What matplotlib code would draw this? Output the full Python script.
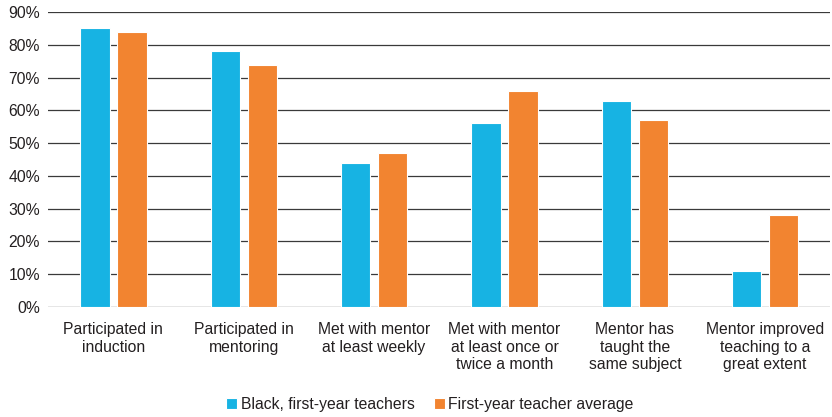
import numpy as np
import matplotlib.pyplot as plt

plt.rcParams['font.family'] = ['Liberation Sans', 'DejaVu Sans']

categories = ["Participated in\ninduction", "Participated in\nmentoring",
              "Met with mentor\nat least weekly", "Met with mentor\nat least once or\ntwice a month",
              "Mentor has\ntaught the\nsame subject", "Mentor improved\nteaching to a\ngreat extent"]
black_first_year = [85, 78, 44, 56, 63, 11]
first_year_avg = [84, 74, 47, 66, 57, 28]

blue = '#17b3e3'
orange = '#f28430'
txt = '#231f20'
fs = 11.3

fig = plt.figure(figsize=(8.32, 4.17), dpi=100)
ax = fig.add_axes([0.058, 0.264, 0.94, 0.707])

x = np.arange(len(categories))
w = 0.225
ax.bar(x - 0.142, black_first_year, w, color=blue, edgecolor='white', linewidth=0.8,
       label='Black, first-year teachers', zorder=3)
ax.bar(x + 0.142, first_year_avg, w, color=orange, edgecolor='white', linewidth=0.8,
       label='First-year teacher average', zorder=3)

ax.set_xlim(-0.5, len(categories) - 0.5)
ax.set_ylim(0, 90)
ax.set_yticks(range(0, 91, 10))
ax.set_yticklabels([f'{v}%' for v in range(0, 91, 10)], fontsize=fs, color=txt)
ax.set_xticks(x)
ax.set_xticklabels(categories, fontsize=fs, color=txt, va='top', linespacing=1.2)
ax.tick_params(axis='x', length=0, pad=11)
ax.tick_params(axis='y', length=0, pad=6)
ax.grid(axis='y', color='#3a3a3a', linewidth=0.9, zorder=0)
for s in ax.spines.values():
    s.set_visible(False)

fig.legend(loc='lower center', bbox_to_anchor=(0.517, -0.022), ncol=2, frameon=False,
           fontsize=fs, handlelength=0.7, handleheight=0.7, handletextpad=0.25,
           columnspacing=1.17, labelcolor=txt)

fig.savefig('out.png', dpi=100)
